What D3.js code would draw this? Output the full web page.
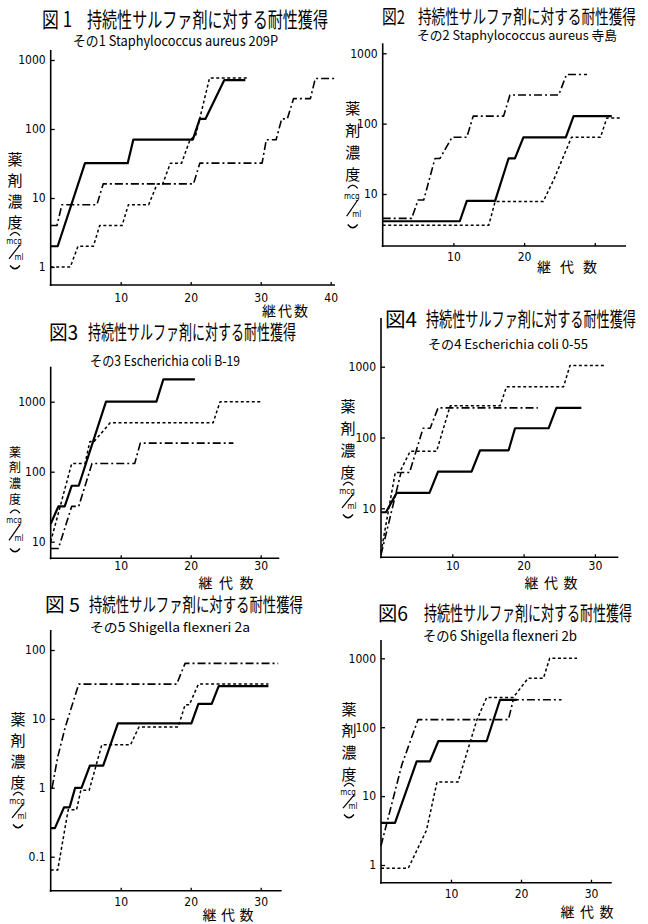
<!DOCTYPE html>
<html>
<head>
<meta charset="utf-8">
<script src="https://cdn.jsdelivr.net/npm/d3@7"></script>
<style>
body { margin: 0; background: #fff; }
svg { display: block; }
.jp { font-family: "Noto Sans CJK JP", sans-serif; }
.num { font-family: "Liberation Sans Narrow", "DejaVu Sans Condensed", "Liberation Sans", sans-serif; }
</style>
</head>
<body>
<svg id="fig" width="648" height="924"></svg>
<script>
// series: [継代数, mcg/ml]
const p1Solid = [[0,2],[1,2],[4.9,32],[11,32],[11.8,70],[20.3,70],[21.3,140],[22.1,140],[24.8,512],[27.8,512]];
const p1Dash = [[0,1],[2.8,1],[3.9,2],[6.1,2],[7,4],[10.2,4],[11.1,8],[14,8],[15.2,16],[16,16],[17.1,32],[18.7,32],[19.9,70],[20.7,80],[22.7,550],[28.2,550]];
const p1DashDot = [[0,4],[0.9,4],[1.6,8],[6.6,8],[7.5,16],[20.4,16],[21.3,32],[30.2,32],[30.8,70],[32.2,70],[33,140],[33.8,140],[34.7,276],[37.1,276],[37.8,540],[40.5,540]];

const p2Solid = [[0,4.1],[10.9,4.1],[11.9,8],[15.9,8],[17.8,32],[18.7,32],[19.9,64],[25.9,64],[27,128],[32.4,128]];
const p2Dash = [[0,3.6],[15,3.6],[15.9,7.8],[22.7,7.8],[24.2,16],[26.7,64],[30.8,64],[31.7,120],[33.8,120]];
const p2DashDot = [[0,4.5],[4.1,4.5],[5,8.2],[5.8,8.2],[7.4,32],[8.1,32],[9.8,64],[11.9,64],[12.8,128],[17.1,128],[18,256],[24.9,256],[26,500],[28.9,500]];

const p3Solid = [[0,18],[1.1,32],[2,32],[3,63],[4,63],[7.9,1000],[15.1,1000],[16.1,2090],[20.6,2090]];
const p3Dash = [[0,10],[3,131],[4.9,131],[5.6,270],[6.2,270],[8.5,500],[23.2,500],[24.2,1000],[30.1,1000]];
const p3DashDot = [[0,8],[1.1,8],[3,32],[4,32],[5.9,131],[12,131],[12.8,256],[26.1,256]];

const p4Solid = [[0,8.8],[0.7,8.8],[2.2,16.5],[6.8,16.5],[8,33],[12.7,33],[13.9,66],[17.9,66],[18.8,135],[23.5,135],[24.6,262],[28.1,262]];
const p4Dash = [[0,2.4],[2,32],[2.6,32],[4.1,64],[7.8,64],[9.7,280],[16.7,280],[17.6,520],[25.6,520],[26.5,1040],[31.4,1040]];
const p4DashDot = [[0,2.2],[2.8,32],[4,32],[5.9,135],[6.9,135],[8,262],[22,262]];

const p5Solid = [[0,0.26],[0.6,0.26],[1.9,0.52],[2.7,0.52],[3.5,1],[4.4,1],[5.6,2.1],[7.5,2.1],[9.6,8.6],[20.1,8.6],[21.1,16.5],[23,16.5],[24,30],[31.1,30]];
const p5Dash = [[0,0.064],[1,0.064],[2.5,0.48],[3.7,0.48],[4.3,0.92],[5.5,0.92],[7.3,4.2],[11.4,4.2],[12.6,7.6],[18.2,7.6],[19.2,16],[19.8,16],[21.1,32],[31.1,32]];
const p5DashDot = [[0.2,1],[1,2.8],[2.1,7.7],[4,32],[18,32],[19.2,64],[32.5,64]];

const p6Solid = [[0,4.1],[2,4.1],[5.1,32],[7,32],[8.2,63],[15.1,63],[17,250],[19.4,250]];
const p6Dash = [[0,0.9],[3.9,0.9],[6.5,3.2],[8,16],[11,16],[13.7,128],[15.1,270],[18.9,270],[21,512],[23.2,512],[24.1,1000],[28,1000]];
const p6DashDot = [[0,1.9],[3,29],[5.3,129],[18.2,129],[18.9,250],[25.8,250]];

const figNames = ["図 1", "図2", "図3", "図4", "図 5", "図6"];
const mainTitle = "持続性サルファ剤に対する耐性獲得";
const subTitles = [
  "その1 Staphylococcus aureus 209P",
  "その2 Staphylococcus aureus 寺島",
  "その3 Escherichia coli B-19",
  "その4 Escherichia coli 0-55",
  "その5  Shigella flexneri 2a",
  "その6 Shigella flexneri 2b"
];
const yTickSets = [[1,10,100,1000],[10,100,1000],[10,100,1000],[10,100,1000],[0.1,1,10,100],[1,10,100,1000]];
const xTickSets = [[10,20,30,40],[10,20,30],[10,20,30],[10,20,30],[10,20,30],[10,20,30]];
const xLabelSets = [[10,20,30,40],[10,20],[10,20,30],[10,20,30],[10,20,30],[10,20,30]];
const yLabelChars = ["薬", "剤", "濃", "度"];
const xLabelText = "継代数";

// layout of each panel (pixels)
const layout = [
  {x0:50.7, x10:120.7, yA:1, pA:267, yB:1000, pB:60, yTop:50, yBot:285, xRight:335, xPad:8,
   fig:[42,72,87,328,26.5,21], sub:[73,278,45.5,14], yl:[15,158,21.3,268,15], xl:[285,311,46]},
  {x0:382.7, x10:453.4, yA:10, pA:194, yB:1000, pB:53.3, yTop:43.3, yBot:246, xRight:626, xPad:6,
   fig:[382,405,418,636,23.5,19], sub:[417,617,39.5,13], yl:[352.7,107,22,227,15], xl:[567,267,60]},
  {x0:50.7, x10:120.7, yA:10, pA:541.7, yB:1000, pB:401.7, yTop:366.7, yBot:558.3, xRight:279.3, xPad:3.5,
   fig:[49,78,88,296,340,20], sub:[90,240,365.5,14], yl:[15,451,15.7,551,12], xl:[226,583,55]},
  {x0:381, x10:452.3, yA:10, pA:508.3, yB:1000, pB:366.7, yTop:318, yBot:557.3, xRight:618.3, xPad:4.5,
   fig:[385,417,426,636,327,20], sub:[428,588,349,13], yl:[348,405,22.3,517,15], xl:[551,583,53]},
  {x0:50.7, x10:120.7, yA:0.1, pA:856.7, yB:100, pB:650, yTop:630, yBot:890.7, xRight:281.7, xPad:7,
   fig:[45,80,89,303,612,19], sub:[90,250,631.5,13], yl:[18,718,21.3,827,15], xl:[228,915,51]},
  {x0:381, x10:451, yA:1, pA:865, yB:1000, pB:658.3, yTop:640, yBot:882.7, xRight:611.7, xPad:7,
   fig:[378,408,424,632,621,20], sub:[423,577,641,14], yl:[349,708,21.7,817,15], xl:[587,912,53]}
];

const seriesSets = [
  [p1Solid, p1Dash, p1DashDot],
  [p2Solid, p2Dash, p2DashDot],
  [p3Solid, p3Dash, p3DashDot],
  [p4Solid, p4Dash, p4DashDot],
  [p5Solid, p5Dash, p5DashDot],
  [p6Solid, p6Dash, p6DashDot]
];
const lineStyles = [
  {w: 2.2, dash: null},
  {w: 1.5, dash: "3,2.5"},
  {w: 1.6, dash: "8,3,2,3"}
];

const svg = d3.select("#fig");

// tall, narrow text: keep the height of font size fs, squeeze into width w
function narrowText(g, str, x, y, w, fs) {
  const t = g.append("text").attr("class", "jp")
    .attr("font-size", fs).text(str);
  const nat = t.node().getComputedTextLength();
  const fs2 = fs * w / nat;
  t.attr("font-size", fs2)
    .attr("transform", `translate(${x},${y}) scale(1,${fs / fs2})`)
    .attr("textLength", w).attr("lengthAdjust", "spacingAndGlyphs");
  return t;
}

layout.forEach((p, i) => {
  const g = svg.append("g");
  const x = d3.scaleLinear().domain([0, 10]).range([p.x0, p.x10]);
  const y = d3.scaleLog().domain([p.yA, p.yB]).range([p.pA, p.pB]);

  // titles
  narrowText(g, figNames[i], p.fig[0], p.fig[4], p.fig[1] - p.fig[0], p.fig[5]);
  narrowText(g, mainTitle, p.fig[2], p.fig[4], p.fig[3] - p.fig[2], p.fig[5]);
  narrowText(g, subTitles[i], p.sub[0], p.sub[2], p.sub[1] - p.sub[0], p.sub[3]);

  // axis lines
  g.append("line").attr("x1", p.x0).attr("x2", p.x0).attr("y1", p.yTop).attr("y2", p.yBot + 1)
    .attr("stroke", "#000").attr("stroke-width", 1.6);
  g.append("line").attr("x1", p.x0 - 1).attr("x2", p.xRight).attr("y1", p.yBot).attr("y2", p.yBot)
    .attr("stroke", "#000").attr("stroke-width", 1.6);

  const yAxis = g.append("g").attr("transform", `translate(${p.x0},0)`)
    .call(d3.axisLeft(y).tickValues(yTickSets[i]).tickSize(-4).tickPadding(5).tickFormat(d => String(d)));
  const xAxis = g.append("g").attr("transform", `translate(0,${p.yBot})`)
    .call(d3.axisBottom(x).tickValues(xTickSets[i]).tickSize(-3).tickPadding(p.xPad)
      .tickFormat(d => xLabelSets[i].includes(d) ? String(d) : ""));
  [yAxis, xAxis].forEach(a => {
    a.select(".domain").remove();
    a.selectAll("line").attr("stroke", "#000").attr("stroke-width", 1.3);
    a.selectAll("text").attr("class", "num").attr("font-size", 12).attr("fill", "#000");
  });

  // x label
  g.append("text").attr("class", "jp")
    .attr("x", p.xl[0] - p.xl[2] / 2).attr("y", p.xl[1] + 5)
    .attr("font-size", 14)
    .attr("textLength", p.xl[2]).attr("lengthAdjust", "spacing")
    .text(xLabelText);

  // y label (vertical)
  const [cx, y0, s, pEnd, fs] = p.yl;
  yLabelChars.forEach((c, k) => {
    g.append("text").attr("class", "jp")
      .attr("x", cx).attr("y", y0 + k * s)
      .attr("text-anchor", "middle").attr("dominant-baseline", "central")
      .attr("font-size", fs).text(c);
  });
  const d0 = y0 + 3 * s, span = pEnd - d0;
  const pa = d0 + 0.2 * span + 2;
  g.append("path")
    .attr("d", `M ${cx - 5} ${pa + 2.5} Q ${cx} ${pa - 4} ${cx + 5} ${pa + 2.5}`)
    .attr("fill", "none").attr("stroke", "#000").attr("stroke-width", 1.3);
  g.append("text").attr("class", "num").attr("x", cx - 1).attr("y", d0 + 0.42 * span + 3)
    .attr("text-anchor", "middle").attr("font-size", 8).text("mcg");
  g.append("line").attr("x1", cx - 6).attr("y1", d0 + 0.8 * span)
    .attr("x2", cx + 5).attr("y2", d0 + 0.5 * span)
    .attr("stroke", "#000").attr("stroke-width", 1.2);
  g.append("text").attr("class", "num").attr("x", cx + 4).attr("y", d0 + 0.76 * span + 3)
    .attr("text-anchor", "middle").attr("font-size", 8).text("ml");
  g.append("path")
    .attr("d", `M ${cx - 5} ${pEnd - 2.5} Q ${cx} ${pEnd + 4} ${cx + 5} ${pEnd - 2.5}`)
    .attr("fill", "none").attr("stroke", "#000").attr("stroke-width", 1.3);

  // series
  const line = d3.line().x(d => x(d[0])).y(d => y(d[1]));
  seriesSets[i].forEach((data, k) => {
    const st = lineStyles[k];
    g.append("path").datum(data)
      .attr("d", line)
      .attr("fill", "none").attr("stroke", "#000")
      .attr("stroke-width", st.w)
      .attr("stroke-dasharray", st.dash)
      .attr("stroke-linejoin", "round");
  });
});
</script>
</body>
</html>
